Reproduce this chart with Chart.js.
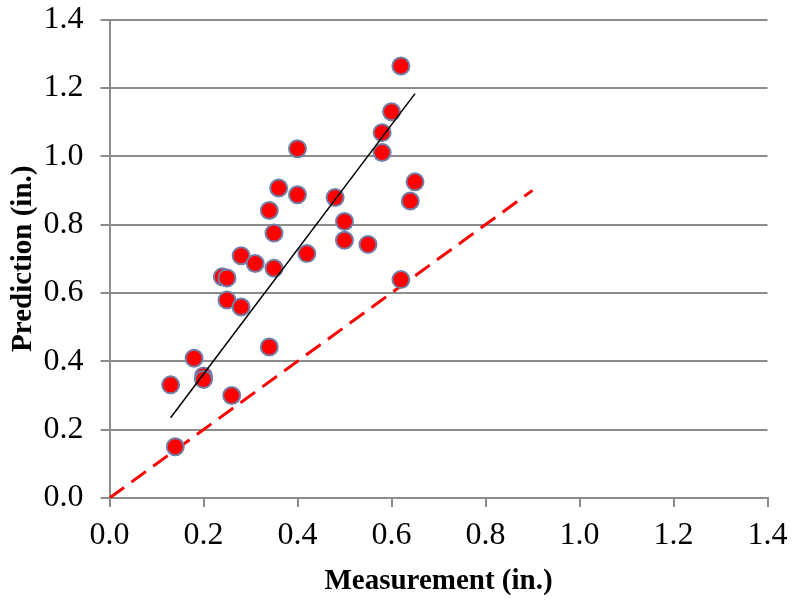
<!DOCTYPE html>
<html lang="en">
<head>
    <meta charset="utf-8" />
    <title>Prediction vs Measurement</title>
    <style>
        html, body { margin: 0; padding: 0; background: #fff; }
        #wrap { width: 792px; height: 605px; }
    </style>
</head>
<body>
    <div id="wrap"><canvas id="chart" width="792" height="605"></canvas></div>

    <script src="https://cdn.jsdelivr.net/npm/chart.js@4.4.3/dist/chart.umd.min.js"></script>
    <script>
        // measured vs predicted values (in.)
        const measured = [0.62, 0.60, 0.58, 0.58, 0.40, 0.65, 0.64, 0.36, 0.40, 0.48, 0.34, 0.50, 0.35, 0.50, 0.55, 0.42,
            0.28, 0.31, 0.35, 0.24, 0.25, 0.62, 0.25, 0.28, 0.34, 0.18, 0.20, 0.20, 0.13, 0.26, 0.14];
        const predicted = [1.264, 1.130, 1.069, 1.011, 1.022, 0.925, 0.869, 0.907, 0.887, 0.879, 0.841, 0.809, 0.775, 0.754, 0.742, 0.715,
            0.709, 0.686, 0.672, 0.647, 0.644, 0.639, 0.579, 0.559, 0.442, 0.409, 0.357, 0.347, 0.331, 0.300, 0.150];

        // fitted trend line and 1:1 line end points
        const trendX = [0.13, 0.65];
        const trendY = [0.235, 1.183];
        const equalX = [0, 0.9];
        const equalY = [0, 0.9];

        const axisTicks = [0, 0.2, 0.4, 0.6, 0.8, 1.0, 1.2, 1.4];

        const serif = '"Liberation Serif", "Times New Roman", serif';
        const gridColor = '#8c8c8c';

        const toPoints = (xs, ys) => xs.map((x, i) => ({ x: x, y: ys[i] }));

        const config = {
            type: 'scatter',
            data: {
                datasets: [
                    {
                        label: 'Trend',
                        data: toPoints(trendX, trendY),
                        showLine: true,
                        borderColor: '#000',
                        borderWidth: 1.5,
                        pointRadius: 0,
                        order: 0
                    },
                    {
                        label: 'Data',
                        data: toPoints(measured, predicted),
                        backgroundColor: '#ff0000',
                        borderColor: '#7080a8',
                        borderWidth: 2,
                        pointRadius: 8.5,
                        pointHoverRadius: 8.5,
                        order: 1
                    },
                    {
                        label: '1:1',
                        data: toPoints(equalX, equalY),
                        showLine: true,
                        borderColor: '#ff0000',
                        borderWidth: 3,
                        borderDash: [18, 9],
                        pointRadius: 0,
                        order: 2
                    }
                ]
            },
            options: {
                responsive: false,
                animation: false,
                layout: { padding: { left: 0, right: 24.5, top: 19.5, bottom: 0 } },
                plugins: {
                    legend: { display: false },
                    tooltip: { enabled: false }
                },
                scales: {
                    x: {
                        type: 'linear',
                        min: 0,
                        max: 1.4,
                        afterBuildTicks: s => { s.ticks = axisTicks.map(v => ({ value: v })); },
                        afterFit: s => { s.height = 107; s.paddingLeft = 0; s.paddingRight = 0; },
                        ticks: {
                            padding: 9,
                            color: '#000',
                            font: { family: serif, size: 32 },
                            callback: v => Number(v).toFixed(1)
                        },
                        grid: {
                            drawOnChartArea: false,
                            color: gridColor,
                            lineWidth: 2,
                            tickLength: 9
                        },
                        border: { color: gridColor, width: 2 },
                        title: {
                            display: true,
                            text: 'Measurement (in.)',
                            color: '#000',
                            font: { family: serif, size: 29, weight: 'bold' },
                            padding: { top: 0, bottom: 6 }
                        }
                    },
                    y: {
                        type: 'linear',
                        min: 0,
                        max: 1.4,
                        afterBuildTicks: s => { s.ticks = axisTicks.map(v => ({ value: v })); },
                        afterFit: s => { s.width = 109.5; s.paddingTop = 0; s.paddingBottom = 0; },
                        ticks: {
                            padding: 17,
                            color: '#000',
                            font: { family: serif, size: 32 },
                            callback: v => Number(v).toFixed(1)
                        },
                        grid: {
                            color: gridColor,
                            lineWidth: 2,
                            tickLength: 9
                        },
                        border: { color: gridColor, width: 2 },
                        title: {
                            display: true,
                            text: 'Prediction (in.)',
                            color: '#000',
                            font: { family: serif, size: 29, weight: 'bold' },
                            padding: { top: 6, bottom: 0 }
                        }
                    }
                }
            }
        };

        new Chart(document.getElementById('chart'), config);
    </script>
</body>
</html>
